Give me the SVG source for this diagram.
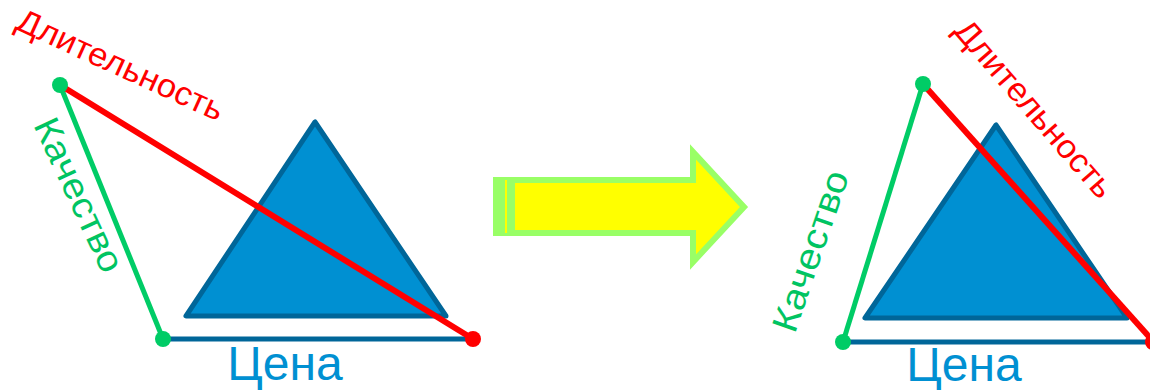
<svg xmlns="http://www.w3.org/2000/svg" width="1150" height="390" viewBox="0 0 1150 390">
<style>
.tri{fill:#0090D2;stroke:#006699;stroke-width:5;stroke-linejoin:round}
.price{stroke:#006699;stroke-width:5}
.dur{stroke:#FF0000;stroke-width:6}
.qual{stroke:#00CC66;stroke-width:5}
.gdot{fill:#00CC66}
.rdot{fill:#FF0000}
text{font-family:"Liberation Sans",Arial,sans-serif}
.tdur{fill:#FF0000;font-size:33px}
.tqual{fill:#00C462;font-size:36px}
.tprice{fill:#0090D2;font-size:48px}
</style>
<g id="left-triangle"><polygon class="tri" points="315,122 186,316 446,316"/></g>
<g id="right-triangle"><polygon class="tri" points="996,125 865,318 1127,318"/></g>
<g id="connectors">
<line class="price" x1="163" y1="339" x2="473" y2="339"/>
<line class="qual" x1="60" y1="85" x2="163" y2="339"/>
<line class="dur" x1="60" y1="85" x2="473" y2="339"/>
<line class="price" x1="843" y1="342" x2="1152" y2="342"/>
<line class="qual" x1="923" y1="84" x2="843" y2="342"/>
<line class="dur" x1="923" y1="84" x2="1152" y2="340"/>
</g>
<g id="left-points">
<circle class="gdot" cx="60" cy="85" r="8"/>
<circle class="gdot" cx="163" cy="339" r="8"/>
<circle class="rdot" cx="473" cy="339" r="8"/>
</g>
<g id="right-points">
<circle class="gdot" cx="923" cy="84" r="8"/>
<circle class="gdot" cx="843" cy="342" r="8"/>
<circle class="rdot" cx="1153" cy="342" r="8"/>
</g>
<g id="left-labels">
<text class="tdur" text-anchor="middle" textLength="224" lengthAdjust="spacingAndGlyphs" transform="translate(116,75) rotate(24.5)">Длительность</text>
<text class="tqual" text-anchor="middle" textLength="166" lengthAdjust="spacingAndGlyphs" transform="translate(68,200) rotate(65)">Качество</text>
<text class="tprice" text-anchor="middle" x="285" y="380">Цена</text>
</g>
<g id="right-labels">
<text class="tdur" text-anchor="middle" textLength="224" lengthAdjust="spacingAndGlyphs" transform="translate(1026,116) rotate(49)">Длительность</text>
<text class="tqual" text-anchor="middle" textLength="168" lengthAdjust="spacingAndGlyphs" transform="translate(822,255) rotate(-71)">Качество</text>
<text class="tprice" text-anchor="middle" x="964" y="381">Цена</text>
</g>
<g id="arrow">
<polygon points="496,180 693,180 693,152 744,207 693,262 693,233 496,233" fill="#FFFF00" stroke="#99FF66" stroke-width="6" stroke-linejoin="miter"/>
<rect x="494" y="177" width="21" height="59" fill="#99FF66"/>
<rect x="505" y="180" width="2" height="53" fill="#FFFF00"/>
</g>
</svg>
